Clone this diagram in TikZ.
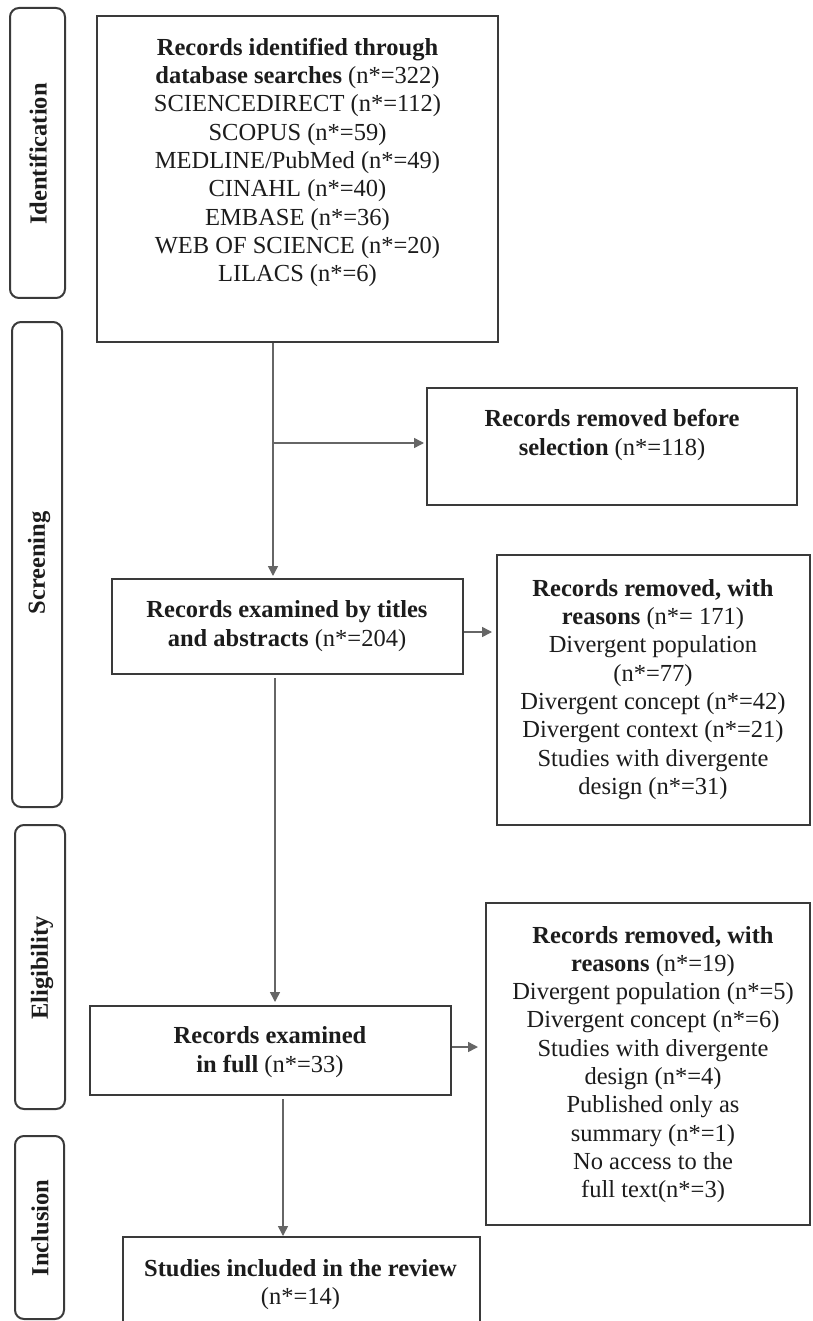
\documentclass[tikz,border=0pt]{standalone}
\usepackage{fontspec}
\setmainfont{Liberation Serif}
\usetikzlibrary{arrows.meta}
\definecolor{boxline}{HTML}{3A3A3A}
\definecolor{connc}{HTML}{666666}
\definecolor{txtc}{HTML}{1C1C1C}
\newcommand{\boxfont}{\fontsize{24.5}{28.3}\selectfont}
\begin{document}
\begin{tikzpicture}[x=1pt,y=-1pt,
  box/.style={draw=boxline, line width=2pt, rectangle, inner sep=0pt},
  side/.style={draw=boxline, line width=2pt, rectangle, rounded corners=9pt, inner sep=0pt},
  txtn/.style={align=center, text=txtc, font=\boxfont, inner sep=0pt},
  sidelab/.style={rotate=90, font=\boxfont\bfseries, text=txtc, inner sep=0pt},
  conn/.style={draw=connc, line width=1.5pt},
  arr/.style={conn, -{Triangle[length=10pt,width=10pt]}}]
\useasboundingbox (0,0) rectangle (812,1321);
\clip (0,0) rectangle (812,1321);
\fill[white] (0,0) rectangle (812,1321);

% side phase boxes
\node[side, minimum width=55, minimum height=290] (s1) at (37.5,153) {};
\node[sidelab] (l1) at (38,154) {Identification};
\node[side, minimum width=50, minimum height=485] (s2) at (37,564.5) {};
\node[sidelab] (l2) at (39,563) {Screening};
\node[side, minimum width=50, minimum height=284] (s3) at (40,967) {};
\node[sidelab] (l3) at (42,968) {Eligibility};
\node[side, minimum width=49, minimum height=183] (s4) at (39.5,1227.5) {};
\node[sidelab] (l4) at (40,1228) {Inclusion};

% main boxes
\node[box, minimum width=401, minimum height=326] (b1) at (297.5,179) {};
\node[txtn] (t1) at (297.5,162.5) {\textbf{Records identified through}\\
  \textbf{database searches} (n*=322)\\
  SCIENCEDIRECT (n*=112)\\
  SCOPUS (n*=59)\\
  MEDLINE/PubMed (n*=49)\\
  CINAHL (n*=40)\\
  EMBASE (n*=36)\\
  WEB OF SCIENCE (n*=20)\\
  LILACS (n*=6)};

\node[box, minimum width=370, minimum height=117] (rb) at (612,446.5) {};
\node[txtn] (trb) at (612,435) {\textbf{Records removed before}\\
  \textbf{selection} (n*=118)};

\node[box, minimum width=351, minimum height=95] (b2) at (287.5,626.5) {};
\node[txtn] (t2) at (287,626) {\textbf{Records examined by titles}\\
  \textbf{and abstracts} (n*=204)};

\node[box, minimum width=313, minimum height=270] (b3) at (653.5,690) {};
\node[txtn] (t3) at (653,689.5) {\textbf{Records removed, with}\\
  \textbf{reasons} (n*= 171)\\
  Divergent population\\
  (n*=77)\\
  Divergent concept (n*=42)\\
  Divergent context (n*=21)\\
  Studies with divergente\\
  design (n*=31)};

\node[box, minimum width=361, minimum height=89] (b4) at (270.5,1050.5) {};
\node[txtn] (t4) at (270,1052) {\textbf{Records examined}\\
  \textbf{in full} (n*=33)};

\node[box, minimum width=324, minimum height=322] (b5) at (648,1064) {};
\node[txtn] (t5) at (653,1064.5) {\textbf{Records removed, with}\\
  \textbf{reasons} (n*=19)\\
  Divergent population (n*=5)\\
  Divergent concept (n*=6)\\
  Studies with divergente\\
  design (n*=4)\\
  Published only as\\
  summary (n*=1)\\
  No access to the\\
  full text(n*=3)};

\node[box, minimum width=357, minimum height=103] (b6) at (301.5,1288.5) {};
\node[txtn] (t6) at (300.5,1284.5) {\textbf{Studies included in the review}\\
  (n*=14)};

% connectors
\coordinate (split) at (273,443);
\draw[arr, shorten >=2pt] (b1.south -| split) -- (b2.north -| split);
\draw[arr, shorten >=2pt] (split) -- (split -| rb.west);
\coordinate (a2) at (0,632);
\draw[arr, shorten >=4pt] (b2.east |- a2) -- (b3.west |- a2);
\coordinate (v2) at (275,0);
\draw[arr, shorten <=3pt, shorten >=3pt] (b2.south -| v2) -- (b4.north -| v2);
\coordinate (a4) at (0,1047);
\draw[arr, shorten >=7pt] (b4.east |- a4) -- (b5.west |- a4);
\coordinate (v4) at (283,0);
\draw[arr, shorten <=3pt] (b4.south -| v4) -- (b6.north -| v4);
\end{tikzpicture}
\end{document}
